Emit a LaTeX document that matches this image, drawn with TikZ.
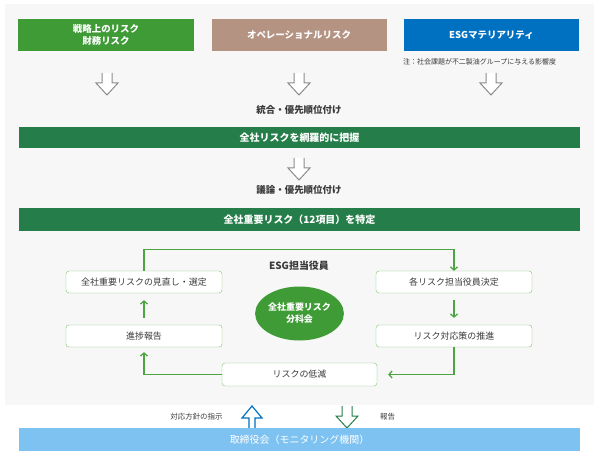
\documentclass[tikz,border=0pt]{standalone}
\usepackage{fontspec}
\setmainfont{Noto Sans CJK JP}
\usetikzlibrary{arrows.meta,shapes.geometric}
\definecolor{stratgreen}{HTML}{3F9B35}
\definecolor{opbrown}{HTML}{B49383}
\definecolor{esgblue}{HTML}{0070C0}
\definecolor{bargreen}{HTML}{257E49}
\definecolor{boardblue}{HTML}{7DC2F1}
\definecolor{panelgray}{HTML}{F7F7F7}
\definecolor{linegreen}{HTML}{4CA540}
\definecolor{boxedge}{HTML}{7FC070}
\definecolor{textgray}{HTML}{3A3A3A}
\definecolor{arrowgray}{HTML}{8C8C8C}

\begin{document}
\begin{tikzpicture}[x=1bp,y=-1bp,
    topbox/.style={minimum width=175bp,minimum height=32bp,inner sep=0pt,text=white,align=center,font=\bfseries\fontsize{9.5}{12}\selectfont},
    riskbar/.style={fill=bargreen,minimum width=561bp,minimum height=22bp,inner sep=0pt,text=white,font=\bfseries\fontsize{10}{12}\selectfont},
    cyclebox/.style={draw=boxedge,fill=white,rounded corners=3bp,minimum width=156bp,minimum height=22bp,inner sep=0pt,text=textgray,font=\fontsize{9}{11}\selectfont},
    steptext/.style={text=textgray,font=\bfseries\fontsize{9.5}{11}\selectfont},
    smalltext/.style={text=textgray,font=\fontsize{7.5}{9}\selectfont},
    cycarrow/.style={draw=linegreen,line width=1.3bp,-{Straight Barb[length=3bp,width=7bp]}},
    hollow/.pic={\path[pic actions,fill=white,line width=1bp] (-5,0) -- (-5,10) -- (-11,10) -- (0,22) -- (11,10) -- (5,10) -- (5,0);},
    slimhollow/.pic={\path[pic actions,fill=white,line width=1.2bp] (-3,0) -- (-3,10) -- (-10,10) -- (0,22) -- (10,10) -- (3,10) -- (3,0);}
  ]
  \useasboundingbox (0,0) rectangle (600,457);
  \fill[panelgray] (5,4) rectangle (594,405);

  \node[topbox,fill=stratgreen] (strategic) at (106,35) {戦略上のリスク\\財務リスク};
  \node[topbox,fill=opbrown] (operational) at (299,35) {オペレーショナルリスク};
  \node[topbox,fill=esgblue] (materiality) at (491.5,35) {ESGマテリアリティ};
  \node[smalltext,font=\fontsize{7}{9}\selectfont,anchor=west,inner sep=0pt] (note) at (403,62) {注：社会課題が不二製油グループに与える影響度};

  \pic[draw=arrowgray] (arrA) at (107,73) {hollow};
  \pic[draw=arrowgray] (arrB) at (299,73) {hollow};
  \pic[draw=arrowgray] (arrC) at (491,73) {hollow};

  \node[steptext] (integrate) at (299,110) {統合・優先順位付け};
  \node[riskbar,minimum height=21bp] (grasp) at (299.5,137.5) {全社リスクを網羅的に把握};
  \pic[draw=arrowgray] (arrD) at (299,158) {hollow};
  \node[steptext] (discuss) at (299,190) {議論・優先順位付け};
  \node[riskbar,minimum height=23bp] (identify) at (299.5,219.5) {全社重要リスク（12項目）を特定};

  \node[steptext,font=\bfseries\fontsize{10}{12}\selectfont] (officer) at (299,266) {ESG担当役員};
  \node[ellipse,fill=stratgreen,minimum width=86bp,minimum height=54bp,inner sep=0pt,text=white,align=center,font=\bfseries\fontsize{9}{12}\selectfont] (committee) at (299.5,313.5) {全社重要リスク\\分科会};

  \node[cyclebox] (review) at (144,282) {全社重要リスクの見直し・選定};
  \node[cyclebox] (assign) at (454,282) {各リスク担当役員決定};
  \node[cyclebox] (progress) at (144,336) {進捗報告};
  \node[cyclebox] (promote) at (454,336) {リスク対応策の推進};
  \node[cyclebox,minimum width=155bp,minimum height=23bp] (reduce) at (299.5,374.5) {リスクの低減};

  \draw[cycarrow] (review.north) -- ++(0,-21) -| (assign.north);
  \draw[cycarrow,shorten <=7bp,shorten >=7bp] (assign) -- (promote);
  \draw[cycarrow] (promote.south) |- ([xshift=11bp]reduce.east);
  \draw[cycarrow] (reduce.west) -| ([yshift=-5bp]progress.south);
  \draw[cycarrow,shorten <=7bp,shorten >=7bp] (progress) -- (review);

  \pic[draw=esgblue,rotate=180] (instruct) at (252,428) {slimhollow};
  \pic[draw=bargreen] (reportarr) at (347,406) {hollow};
  \node[smalltext] (directive) at (196.5,417) {対応方針の指示};
  \node[smalltext] (report) at (387.5,417) {報告};
  \node[fill=boardblue,minimum width=561bp,minimum height=23bp,inner sep=0pt,text=white,font=\fontsize{10}{12}\selectfont] (board) at (299.5,439.5) {取締役会（モニタリング機関）};
\end{tikzpicture}
\end{document}
